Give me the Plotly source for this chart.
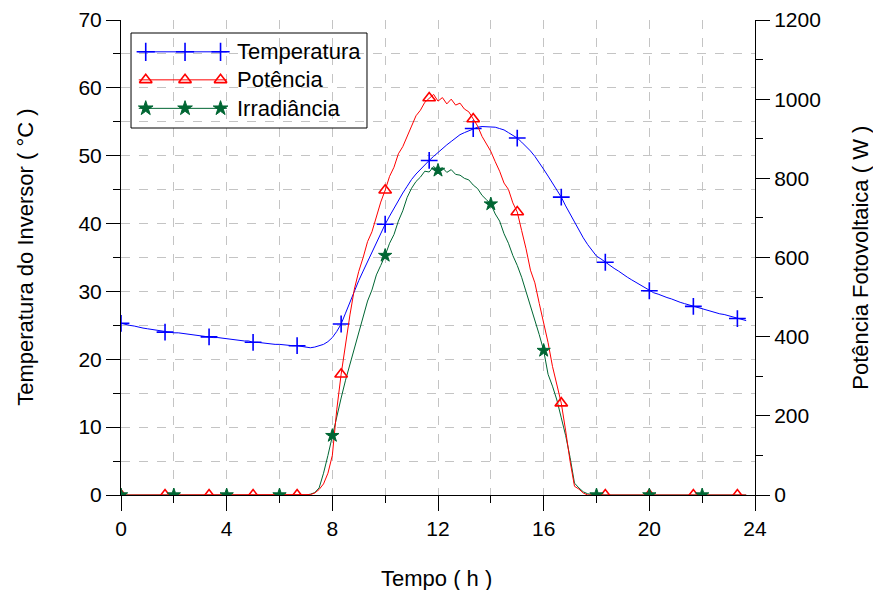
import numpy as np
import plotly.graph_objects as go

# time grid: every 10 minutes from 0 h to 23.67 h
tempo_h = np.arange(143) / 6.0

temperatura = [
    25.3, 25.1, 25.0, 24.9, 24.7, 24.6,
    24.5, 24.4, 24.3, 24.2, 24.0, 24.0,
    23.9, 23.9, 23.8, 23.7, 23.7, 23.6,
    23.5, 23.4, 23.3, 23.2, 23.2, 23.1,
    23.0, 22.9, 22.9, 22.8, 22.7, 22.7,
    22.5, 22.5, 22.4, 22.3, 22.3, 22.2,
    22.2, 22.1, 22.1, 22.0, 22.0, 21.9,
    21.8, 21.7, 21.8, 22.0, 22.2, 22.6,
    23.2, 24.1, 25.2, 26.8, 28.5, 30.1,
    31.6, 33.0, 34.4, 35.8, 37.3, 38.6,
    39.9, 41.1, 42.3, 43.4, 44.5, 45.5,
    46.5, 47.3, 48.0, 48.7, 49.3, 49.9,
    50.5, 51.0, 51.6, 52.1, 52.6, 53.1,
    53.4, 53.7, 54.0, 54.2, 54.3, 54.3,
    54.3, 54.2, 54.0, 53.8, 53.4, 53.0,
    52.6, 52.0, 51.4, 50.7, 49.9, 49.0,
    48.0, 47.0, 46.0, 45.0, 43.9, 42.6,
    41.4, 40.2, 39.0, 37.9, 36.9, 36.0,
    35.2, 34.8, 34.3, 33.9, 33.4, 33.0,
    32.5, 32.1, 31.7, 31.3, 30.9, 30.5,
    30.1, 29.8, 29.6, 29.3, 29.1, 28.9,
    28.6, 28.4, 28.2, 28.0, 27.8, 27.6,
    27.4, 27.2, 27.0, 26.9, 26.7, 26.6,
    26.4, 26.2, 26.0, 25.9, 25.7,
]

potencia = [
    0, 0, 0, 0, 0, 0,
    0, 0, 0, 0, 0, 0,
    0, 0, 0, 0, 0, 0,
    0, 0, 0, 0, 0, 0,
    0, 0, 0, 0, 0, 0,
    0, 0, 0, 0, 0, 0,
    0, 0, 0, 0, 0, 0,
    0, 1, 5, 14, 28, 55,
    100, 215, 305, 385, 455, 520,
    565, 600, 640, 665, 705, 740,
    770, 805, 828, 862, 880, 908,
    932, 958, 972, 992, 1003, 1012,
    995, 1004, 988, 1000, 985, 990,
    975, 968, 950, 932, 906, 888,
    868, 842, 818, 788, 772, 738,
    715, 668, 622, 568, 536, 484,
    435, 385, 325, 275, 232, 162,
    85, 22, 15, 5, 0, 0,
    0, 0, 0, 0, 0, 0,
    0, 0, 0, 0, 0, 0,
    0, 0, 0, 0, 0, 0,
    0, 0, 0, 0, 0, 0,
    0, 0, 0, 0, 0, 0,
    0, 0, 0, 0, 0,
]

irradiancia = [
    0, 0, 0, 0, 0, 0,
    0, 0, 0, 0, 0, 0,
    0, 0, 0, 0, 0, 0,
    0, 0, 0, 0, 0, 0,
    0, 0, 0, 0, 0, 0,
    0, 0, 0, 0, 0, 0,
    0, 0, 0, 0, 0, 0,
    0, 2, 6, 18, 55, 100,
    150, 200, 245, 290, 330, 370,
    410, 445, 490, 518, 556, 580,
    605, 636, 658, 692, 718, 752,
    775, 792, 803, 818, 816, 830,
    820, 827, 815, 822, 810, 808,
    800, 796, 783, 774, 757, 746,
    735, 710, 692, 660, 636, 605,
    580, 550, 515, 478, 440, 405,
    365, 305, 275, 240, 195, 150,
    95, 30, 18, 8, 3, 1,
    0, 0, 0, 0, 0, 0,
    0, 0, 0, 0, 0, 0,
    0, 0, 0, 0, 0, 0,
    0, 0, 0, 0, 0, 0,
    0, 0, 0, 0, 0, 0,
    0, 0, 0, 0, 0,
]

x_ticks = [0, 4, 8, 12, 16, 20, 24]
nomes = ["Temperatura", "Potência", "Irradiância"]

AZUL = "#0000FF"
VERM = "#FF0000"
VERDE = "#006633"
FONT = "Arial, 'Liberation Sans', sans-serif"
TICK_FS = 21
TXT_FS = 22

fig = go.Figure()

t = np.asarray(tempo_h)
T = np.asarray(temperatura)
P = np.asarray(potencia)
G = np.asarray(irradiancia)

# lines
fig.add_trace(go.Scatter(x=t, y=T, mode="lines", line=dict(color=AZUL, width=1), showlegend=False, yaxis="y"))
fig.add_trace(go.Scatter(x=t, y=G, mode="lines", line=dict(color=VERDE, width=1), showlegend=False, yaxis="y2"))
fig.add_trace(go.Scatter(x=t, y=P, mode="lines", line=dict(color=VERM, width=1), showlegend=False, yaxis="y2"))

# markers on a subset of samples
fig.add_trace(go.Scatter(x=t[::10], y=T[::10], mode="markers", showlegend=False, yaxis="y",
                         marker=dict(symbol="cross-thin", size=12, line=dict(color=AZUL, width=1.6))))
fig.add_trace(go.Scatter(x=t[::10], y=P[::10], mode="markers", showlegend=False, yaxis="y2",
                         marker=dict(symbol="triangle-up-open", size=11, color=VERM, line=dict(color=VERM, width=1.6))))
fig.add_trace(go.Scatter(x=t[::12], y=G[::12], mode="markers", showlegend=False, yaxis="y2",
                         marker=dict(symbol="star", size=10, color=VERDE, line=dict(color=VERDE, width=1))))

# custom legend samples (on a hidden overlay axis in paper-like units)
leg_rows = [0.933, 0.874, 0.814]
leg_styles = [
    dict(color=AZUL, symbol="cross-thin", size=13, lw=1.6),
    dict(color=VERM, symbol="triangle-up-open", size=11, lw=1.6),
    dict(color=VERDE, symbol="star", size=11, lw=1),
]
for nome, yy, st in zip(nomes, leg_rows, leg_styles):
    fig.add_trace(go.Scatter(x=[0.028, 0.167], y=[yy, yy], mode="lines", xaxis="x3", yaxis="y3",
                             line=dict(color=st["color"], width=1), showlegend=False, hoverinfo="skip"))
    fig.add_trace(go.Scatter(x=[0.039, 0.101, 0.157], y=[yy] * 3, mode="markers", xaxis="x3", yaxis="y3",
                             marker=dict(symbol=st["symbol"], size=st["size"], color=st["color"],
                                         line=dict(color=st["color"], width=st["lw"])),
                             showlegend=False, hoverinfo="skip"))
    fig.add_annotation(x=0.180, y=yy, xref="paper", yref="paper", text=nome, showarrow=False,
                       xanchor="left", yanchor="middle", font=dict(size=TXT_FS, color="black", family=FONT))

fig.add_shape(type="rect", xref="paper", yref="paper", x0=0.0158, x1=0.388, y0=0.7726, y1=0.9726,
              line=dict(color="black", width=1), fillcolor="rgba(0,0,0,0)")

grid = dict(showgrid=True, gridcolor="#C4C4C4", griddash="dash", gridwidth=1)

fig.update_layout(
    width=873, height=590,
    margin=dict(l=121, r=118, t=20, b=95, autoexpand=False),
    paper_bgcolor="white", plot_bgcolor="white",
    font=dict(family=FONT, size=TICK_FS, color="black"),
    xaxis=dict(range=[0, 24], tickvals=x_ticks, ticks="outside", ticklen=15, tickcolor="black",
               showline=True, linecolor="black", linewidth=1, zeroline=False, automargin=False,
               minor=dict(dtick=2, ticks="outside", ticklen=7, tickcolor="black", **grid),
               **grid),
    yaxis=dict(range=[0, 70], dtick=10, ticks="outside", ticklen=14, tickcolor="black",
               showline=True, linecolor="black", linewidth=1, zeroline=False, automargin=False,
               minor=dict(dtick=5, ticks="outside", ticklen=7, tickcolor="black", **grid),
               **grid),
    yaxis2=dict(range=[0, 1200], dtick=200, overlaying="y", side="right", ticks="outside", ticklen=14,
                tickcolor="black", showline=True, linecolor="black", linewidth=1, showgrid=False,
                zeroline=False, automargin=False,
                minor=dict(dtick=100, ticks="outside", ticklen=7, tickcolor="black", showgrid=False)),
    xaxis3=dict(domain=[0, 1], range=[0, 1], overlaying="x", visible=False, anchor="y3", automargin=False),
    yaxis3=dict(domain=[0, 1], range=[0, 1], overlaying="y", visible=False, anchor="x3", automargin=False),
)

fig.add_annotation(x=-0.151, y=0.5, xref="paper", yref="paper", text="Temperatura do Inversor ( °C )",
                   textangle=-90, showarrow=False, xanchor="center", yanchor="middle",
                   font=dict(size=TXT_FS, family=FONT))
fig.add_annotation(x=1.166, y=0.5, xref="paper", yref="paper", text="Potência Fotovoltaica ( W )",
                   textangle=-90, showarrow=False, xanchor="center", yanchor="middle",
                   font=dict(size=TXT_FS, family=FONT))
fig.add_annotation(x=0.498, y=-0.175, xref="paper", yref="paper", text="Tempo ( h )",
                   showarrow=False, xanchor="center", yanchor="middle",
                   font=dict(size=TXT_FS, family=FONT))

# remove the browser's default page margin so the 873x590 figure fills the window exactly
fig.write_html("out.html", config={"displayModeBar": False},
               post_script="document.body.style.margin='0';document.body.style.overflow='hidden';")
